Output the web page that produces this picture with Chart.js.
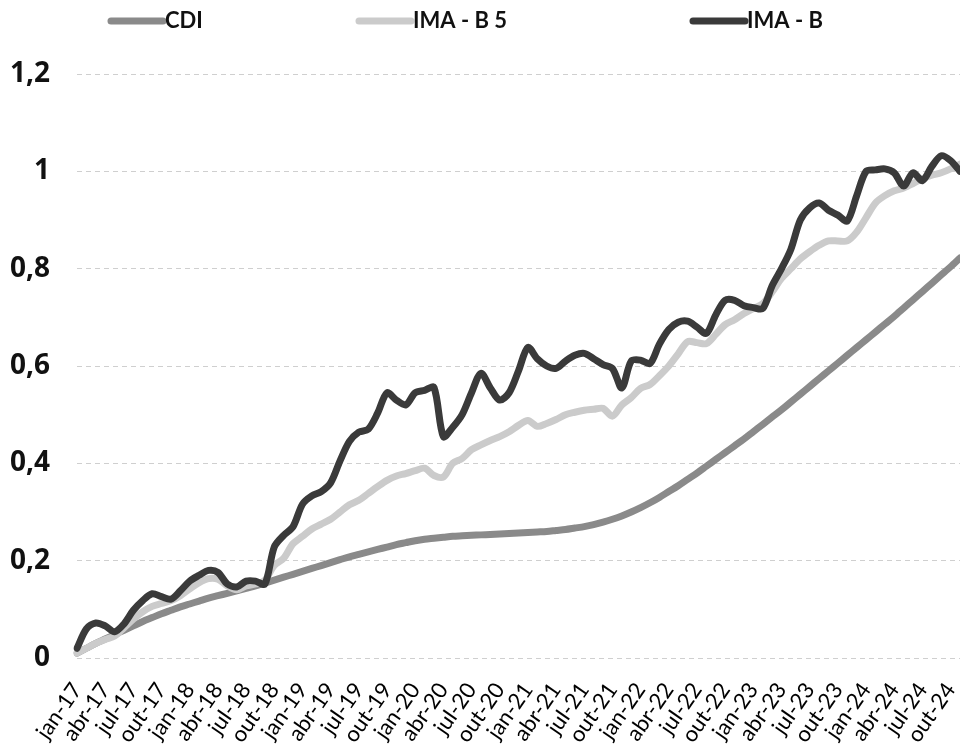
<!DOCTYPE html>
<html>
<head>
<meta charset="utf-8">
<script src="https://cdn.jsdelivr.net/npm/chart.js@4.4.1/dist/chart.umd.min.js"></script>
<style>
  html, body { margin: 0; padding: 0; background: #fff; }
  #wrap { width: 960px; height: 752px; }
</style>
</head>
<body>
<div id="wrap"><canvas id="chart"></canvas></div>
<script>
const monthNames = ['jan', 'fev', 'mar', 'abr', 'mai', 'jun', 'jul', 'ago', 'set', 'out', 'nov', 'dez'];
const years = ['17', '18', '19', '20', '21', '22', '23', '24'];
const lastMonth = 10; // nov-24

const cdi = [
  0.01, 0.02, 0.03, 0.039, 0.048, 0.057, 0.066, 0.075, 0.083, 0.091,
  0.098, 0.105, 0.111, 0.117, 0.123, 0.128, 0.133, 0.138, 0.143, 0.148,
  0.154, 0.16, 0.166, 0.172, 0.178, 0.184, 0.19, 0.196, 0.202, 0.208,
  0.213, 0.218, 0.223, 0.228, 0.233, 0.237, 0.241, 0.244, 0.246, 0.248,
  0.25, 0.251, 0.252, 0.253, 0.254, 0.255, 0.256, 0.257, 0.258, 0.259,
  0.26, 0.262, 0.264, 0.267, 0.27, 0.274, 0.279, 0.285, 0.292, 0.3,
  0.309, 0.319, 0.33, 0.342, 0.354, 0.367, 0.38, 0.394, 0.408, 0.422,
  0.436, 0.45, 0.465, 0.48, 0.495, 0.51, 0.526, 0.542, 0.558, 0.574,
  0.59, 0.606, 0.622, 0.638, 0.654, 0.67, 0.686, 0.702, 0.719, 0.736,
  0.753, 0.77, 0.787, 0.804, 0.822
];

const imab5 = [
  0.01, 0.02, 0.03, 0.038, 0.045, 0.062, 0.08, 0.095, 0.106, 0.112,
  0.118, 0.128, 0.142, 0.155, 0.163, 0.162, 0.148, 0.14, 0.148, 0.152,
  0.16, 0.19, 0.205, 0.235, 0.25, 0.265, 0.275, 0.285, 0.3, 0.315,
  0.324, 0.338, 0.352, 0.365, 0.374, 0.379, 0.385, 0.39, 0.375, 0.372,
  0.4, 0.41, 0.428, 0.438, 0.447, 0.455, 0.465, 0.478, 0.488, 0.476,
  0.482, 0.49, 0.5, 0.505, 0.509, 0.511, 0.513, 0.497, 0.52, 0.535,
  0.554, 0.562, 0.58, 0.6, 0.625, 0.65, 0.648, 0.646, 0.665, 0.685,
  0.695, 0.708, 0.718, 0.728, 0.752, 0.78, 0.8, 0.82, 0.835, 0.848,
  0.857, 0.857, 0.857, 0.875, 0.905, 0.935, 0.95, 0.96, 0.966, 0.975,
  0.985, 0.992, 0.997, 1.005, 1.015
];

const imab = [
  0.02, 0.06, 0.072, 0.066, 0.054, 0.07, 0.098, 0.118, 0.132, 0.126,
  0.121, 0.138, 0.158, 0.17, 0.18, 0.176, 0.152, 0.146, 0.158, 0.158,
  0.152, 0.228, 0.252, 0.27, 0.316, 0.333, 0.342, 0.36, 0.405, 0.445,
  0.464, 0.47, 0.503, 0.545, 0.53, 0.52, 0.545, 0.55, 0.556, 0.455,
  0.474, 0.5, 0.545, 0.585, 0.555, 0.53, 0.545, 0.59, 0.638, 0.615,
  0.6, 0.595, 0.61, 0.622, 0.626, 0.615, 0.603, 0.595, 0.555, 0.61,
  0.612, 0.605, 0.645, 0.675, 0.69, 0.692, 0.68, 0.667, 0.705, 0.735,
  0.735, 0.724, 0.72, 0.718, 0.765, 0.8, 0.84, 0.9, 0.925, 0.935,
  0.92, 0.91, 0.898, 0.95, 1.0, 1.003, 1.005, 0.997, 0.97, 0.997,
  0.981, 1.01, 1.032, 1.022, 1.0
];

// month labels jan-17 .. nov-24
const labels = [];
years.forEach((y, yi) => {
  monthNames.forEach((m, mi) => {
    if (yi === years.length - 1 && mi > lastMonth) return;
    labels.push(m + '-' + y);
  });
});

// legend drawn by hand, items spread over the top like the original
const legendX = [108, 356, 690];
const topLegend = {
  id: 'topLegend',
  afterDraw(chart) {
    const ctx = chart.ctx;
    const y = 21;
    ctx.save();
    ctx.font = 'bold 22px Lato';
    ctx.textBaseline = 'middle';
    ctx.textAlign = 'left';
    chart.data.datasets.forEach((ds, i) => {
      const x = legendX[i];
      ctx.strokeStyle = ds.borderColor;
      ctx.lineWidth = 7;
      ctx.lineCap = 'round';
      ctx.beginPath();
      ctx.moveTo(x + 3, y);
      ctx.lineTo(x + 55, y);
      ctx.stroke();
      ctx.fillStyle = '#111';
      ctx.fillText(ds.label, x + 57, y);
    });
    ctx.restore();
  }
};

const ctx = document.getElementById('chart').getContext('2d');
const chart = new Chart(ctx, {
  type: 'line',
  data: {
    labels: labels,
    datasets: [
      { label: 'CDI', data: cdi, borderColor: '#8a8a8a', order: 2 },
      { label: 'IMA - B 5', data: imab5, borderColor: '#cbcbcb', order: 1 },
      { label: 'IMA - B', data: imab, borderColor: '#3a3a3a', order: 0 }
    ]
  },
  options: {
    responsive: true,
    maintainAspectRatio: false,
    animation: false,
    elements: {
      line: { borderWidth: 7, tension: 0.3, borderCapStyle: 'round', borderJoinStyle: 'round' },
      point: { radius: 0 }
    },
    layout: { padding: { top: 74, left: 0, right: 0, bottom: 0 } },
    plugins: {
      legend: { display: false },
      tooltip: { enabled: false }
    },
    scales: {
      x: {
        grid: { display: false, drawTicks: false },
        border: { display: false },
        afterFit: s => { s.paddingLeft = 0; s.paddingRight = 0; s.height = 94; },
        ticks: {
          autoSkip: false,
          minRotation: 55,
          maxRotation: 55,
          padding: 20,
          color: '#000',
          font: { family: 'Lato', size: 22 },
          callback: function (val, i) {
            return i % 3 === 0 ? this.getLabelForValue(val) : '';
          }
        }
      },
      y: {
        min: 0,
        max: 1.2,
        afterFit: s => { s.width = 77; },
        grid: { color: '#cfcfcf', lineWidth: 1, drawTicks: false },
        border: { display: false, dash: [5, 4] },
        ticks: {
          stepSize: 0.2,
          padding: 27,
          color: '#111',
          font: { family: 'Open Sans', size: 28, weight: 'bold' },
          callback: v => String(Math.round(v * 10) / 10).replace('.', ',')
        }
      }
    }
  },
  plugins: [topLegend]
});
</script>
</body>
</html>
